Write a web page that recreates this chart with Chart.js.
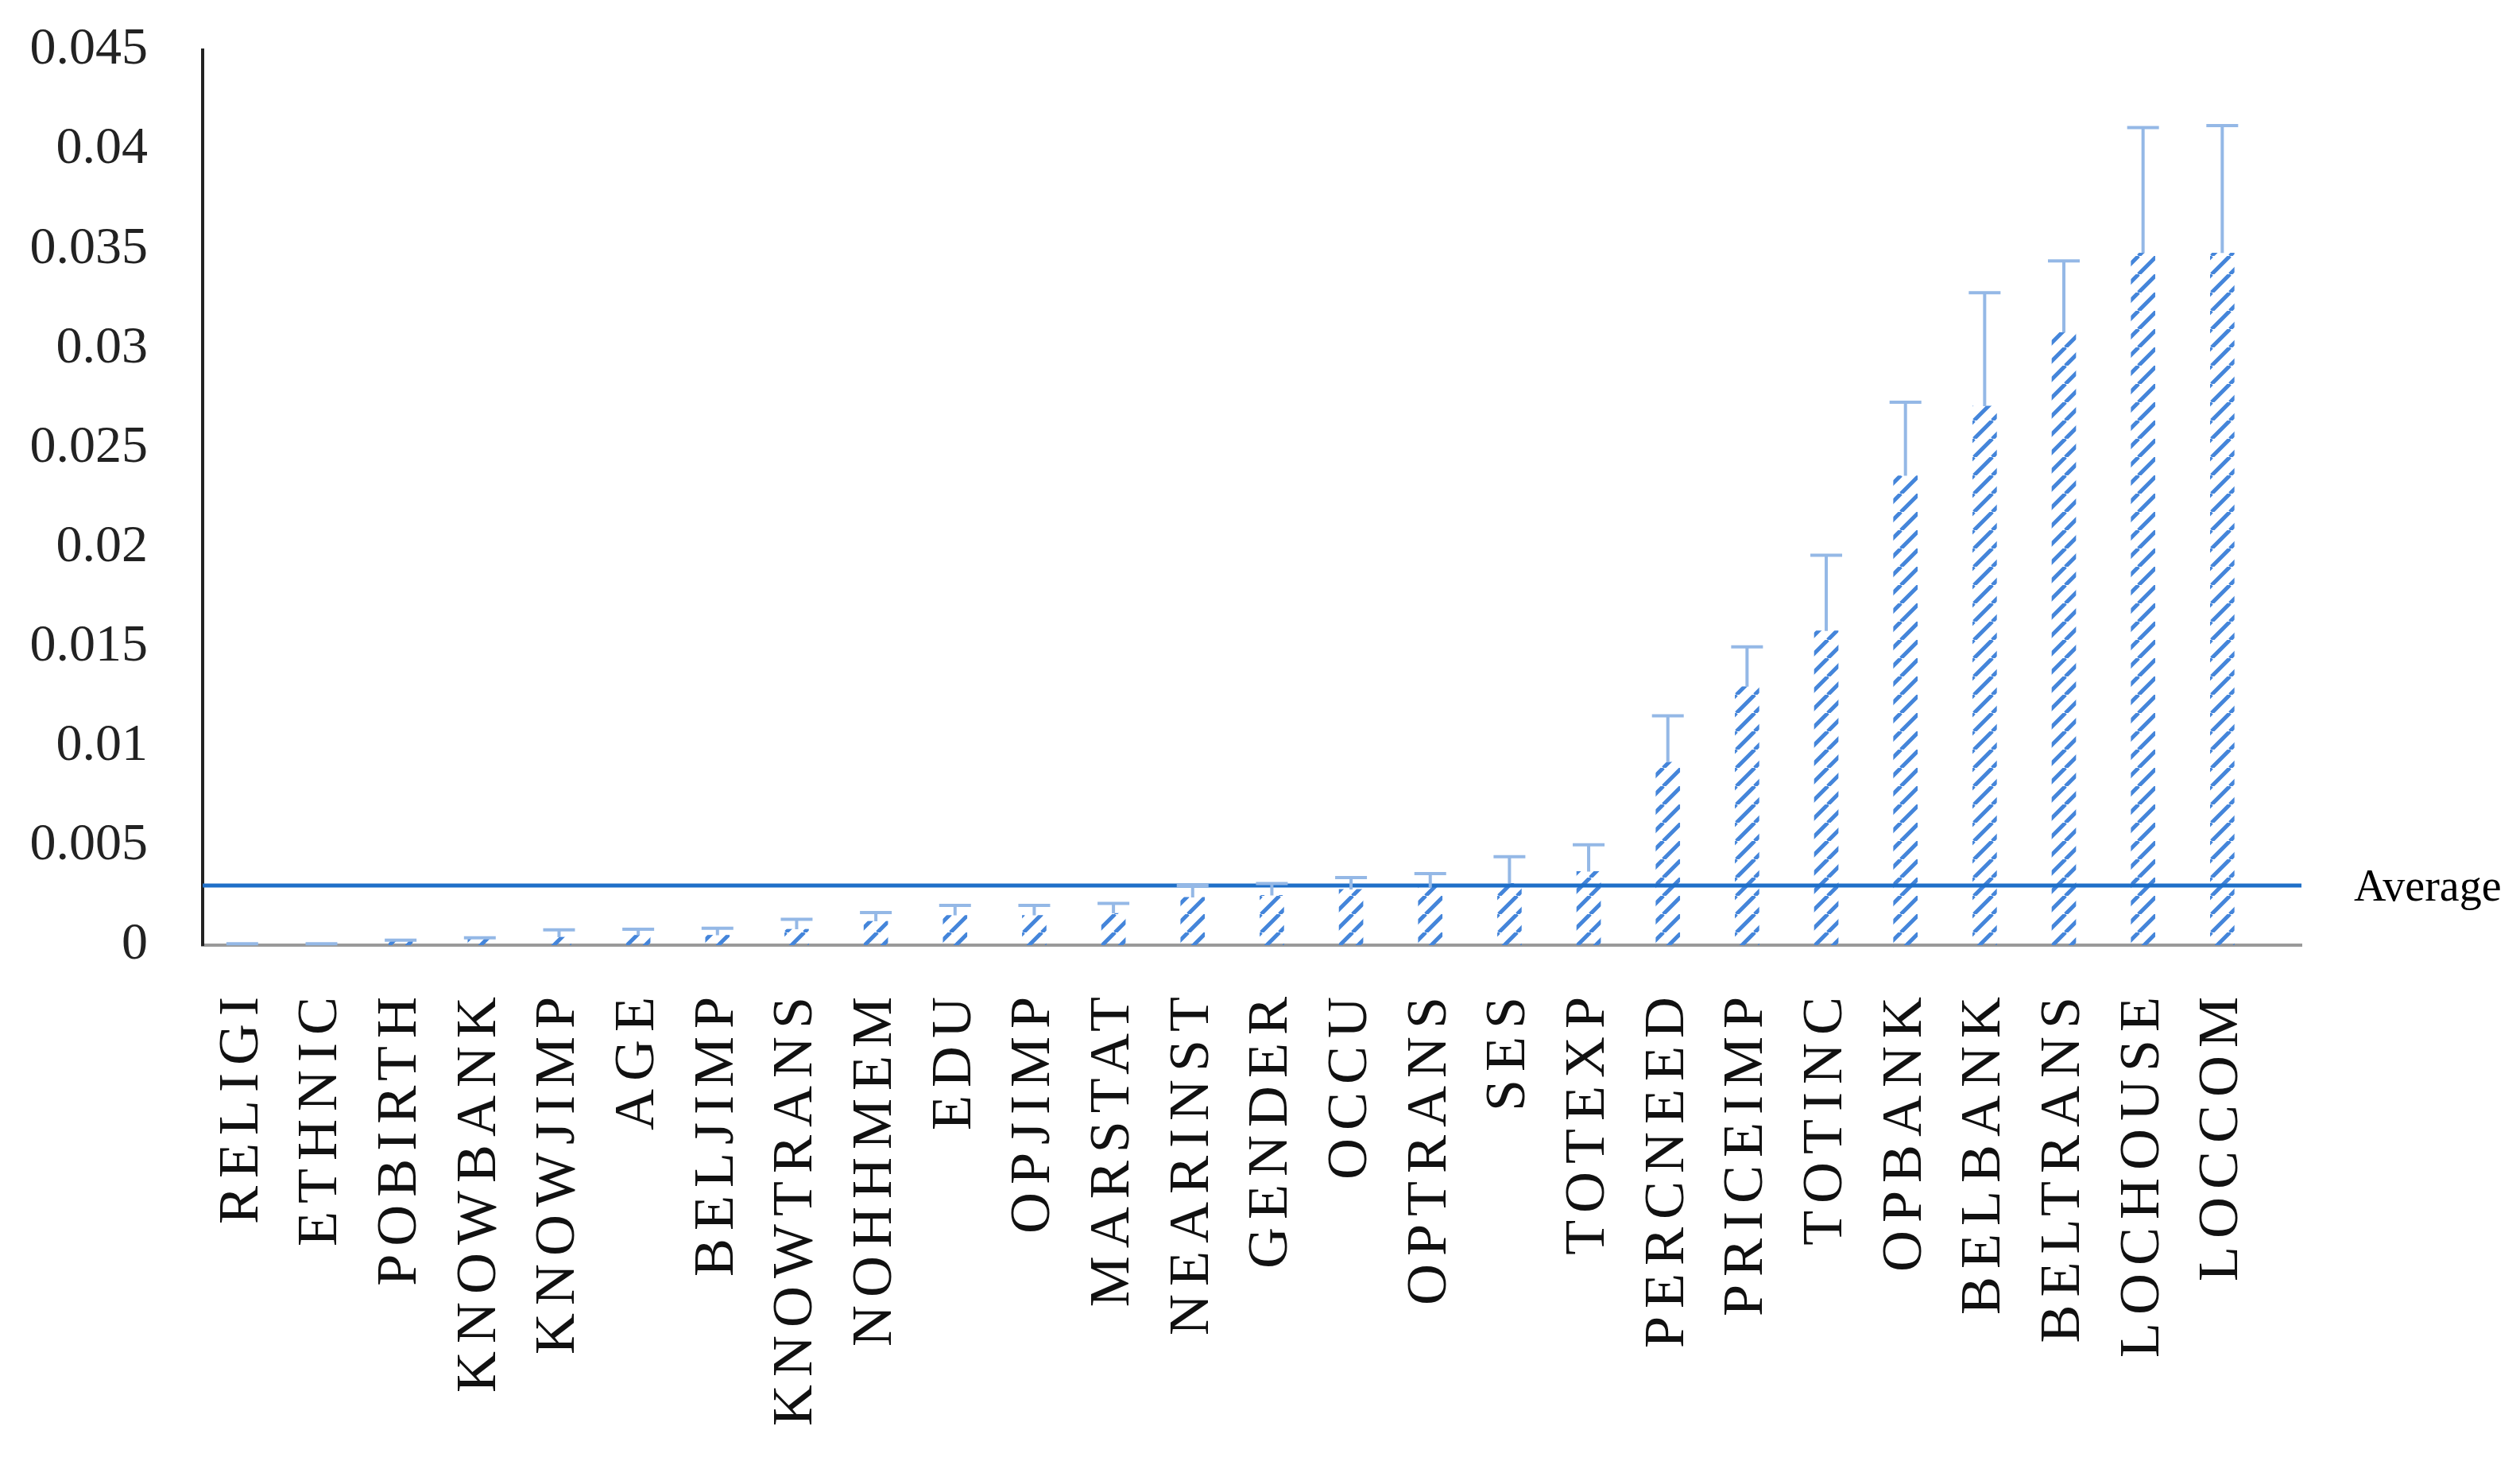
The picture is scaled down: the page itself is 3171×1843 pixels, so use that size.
<!DOCTYPE html>
<html>
<head>
<meta charset="utf-8">
<script src="https://cdn.jsdelivr.net/npm/chart.js@4.4.1/dist/chart.umd.min.js"></script>
<style>
  html, body { margin: 0; padding: 0; background: #ffffff; }
  #wrap { width: 3171px; height: 1843px; }
</style>
</head>
<body>
<div id="wrap"><canvas id="c" width="3171" height="1843"></canvas></div>
<script>
// ---- data ----
const categories = ['RELIGI','ETHNIC','POBIRTH','KNOWBANK','KNOWJIMP','AGE','BELJIMP','KNOWTRANS','NOHHMEM','EDU','OPJIMP','MARSTAT','NEARINST','GENDER','OCCU','OPTRANS','SES','TOTEXP','PERCNEED','PRICEIMP','TOTINC','OPBANK','BELBANK','BELTRANS','LOCHOUSE','LOCCOM'];
const importance = [0.00003,0.00003,0.0002,0.0003,0.0004,0.0005,0.0005,0.0008,0.0012,0.0015,0.0015,0.0016,0.0024,0.0025,0.0028,0.0029,0.0031,0.0037,0.0092,0.0130,0.0158,0.0236,0.0271,0.0308,0.0348,0.0348];
const errorUp = [0.00004,0.00004,0.00005,0.00007,0.00037,0.0003,0.00035,0.0005,0.00044,0.0005,0.0005,0.0005,0.0006,0.0006,0.0006,0.0007,0.00135,0.00135,0.00233,0.0020,0.0038,0.0037,0.0057,0.0036,0.0063,0.0064];
const averageValue = 0.003;
const averageLabel = 'Average';
const yTickLabels = ['0','0.005','0.01','0.015','0.02','0.025','0.03','0.035','0.04','0.045'];

// ---- hatch pattern ----
const canvas = document.getElementById('c');
const ctx0 = canvas.getContext('2d');
const tile = document.createElement('canvas');
tile.width = 23; tile.height = 23;
const tg = tile.getContext('2d');
tg.strokeStyle = '#4485da';
tg.lineWidth = 5;
tg.beginPath();
for (const o of [-23, 0, 23]) { tg.moveTo(o, 23); tg.lineTo(o + 23, 0); }
tg.stroke();
const hatch = ctx0.createPattern(tile, 'repeat');

// ---- plugins ----
const errorBars = {
  id: 'errorBars',
  afterDatasetsDraw(chart) {
    const {ctx, scales: {x, y}} = chart;
    ctx.save();
    ctx.strokeStyle = '#94b8e6';
    ctx.lineWidth = 4;
    importance.forEach((v, i) => {
      const px = x.getPixelForValue(i);
      const y0 = y.getPixelForValue(v);
      const y1 = y.getPixelForValue(v + errorUp[i]);
      ctx.beginPath();
      ctx.moveTo(px, y0); ctx.lineTo(px, y1);
      ctx.moveTo(px - 20, y1); ctx.lineTo(px + 20, y1);
      ctx.stroke();
    });
    ctx.restore();
  }
};

const avgLabel = {
  id: 'avgLabel',
  afterDraw(chart) {
    const {ctx, chartArea, scales: {y}} = chart;
    ctx.save();
    ctx.font = '56px "Liberation Serif"';
    ctx.fillStyle = '#000';
    ctx.textAlign = 'left';
    ctx.textBaseline = 'middle';
    ctx.fillText(averageLabel, chartArea.right + 66, y.getPixelForValue(averageValue) + 4);
    ctx.restore();
  }
};

const letterSpacingX = {
  id: 'letterSpacingX',
  beforeDraw(chart) {
    const xs = chart.scales.x;
    if (xs && !xs._lsPatched) {
      const orig = xs.drawLabels;
      xs.drawLabels = function (area) {
        const c = this.ctx;
        const prev = c.letterSpacing;
        c.letterSpacing = '10px';
        orig.call(this, area);
        c.letterSpacing = prev;
      };
      xs._lsPatched = true;
    }
  }
};

new Chart(canvas, {
  type: 'bar',
  data: {
    datasets: [
      {
        type: 'line',
        label: averageLabel,
        data: [{x: -0.5, y: averageValue}, {x: 26, y: averageValue}],
        borderColor: '#1f6fc8',
        borderWidth: 5,
        pointRadius: 0,
        order: 0
      },
      {
        type: 'bar',
        label: 'importance',
        data: importance.map((v, i) => ({x: i, y: v})),
        backgroundColor: hatch,
        borderWidth: 0,
        barThickness: 30,
        order: 1
      }
    ]
  },
  options: {
    responsive: false,
    devicePixelRatio: 1,
    animation: false,
    layout: { padding: { left: 0, top: 63, right: 275, bottom: 0 } },
    plugins: { legend: { display: false }, tooltip: { enabled: false } },
    scales: {
      x: {
        type: 'linear',
        min: -0.5,
        max: 26,
        offset: false,
        grid: { display: false, drawTicks: false },
        border: { display: true, color: '#9a9a9a', width: 4 },
        afterBuildTicks: (s) => { s.ticks = categories.map((c, i) => ({value: i})); },
        afterFit: (s) => { s.height = 1843 - 1189; s.paddingLeft = 0; s.paddingRight = 0; },
        ticks: {
          autoSkip: false,
          maxRotation: 90,
          minRotation: 90,
          padding: 55,
          color: '#111',
          font: { family: '"Liberation Serif"', size: 72 },
          callback: (v) => categories[v]
        }
      },
      y: {
        type: 'linear',
        min: 0,
        max: 0.045,
        grid: { display: false, drawTicks: false },
        border: { display: true, color: '#222', width: 4 },
        afterBuildTicks: (s) => { s.ticks = yTickLabels.map(l => ({value: parseFloat(l)})); },
        afterFit: (s) => { s.width = 255; s.paddingTop = 0; s.paddingBottom = 0; },
        ticks: {
          padding: 69,
          color: '#222',
          font: { family: '"Liberation Serif"', size: 66 },
          callback: (v, i) => yTickLabels[i]
        }
      }
    }
  },
  plugins: [errorBars, avgLabel, letterSpacingX]
});
</script>
</body>
</html>
